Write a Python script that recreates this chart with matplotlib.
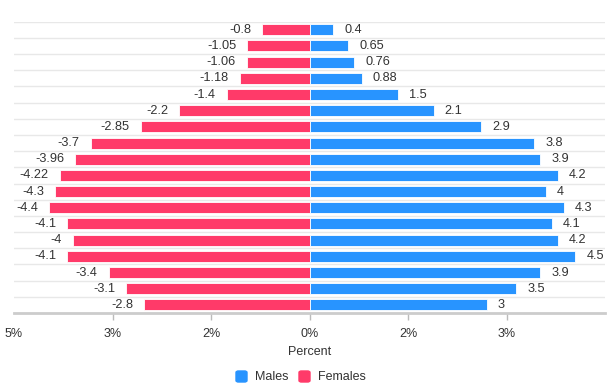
import matplotlib.pyplot as plt
from matplotlib.patches import FancyBboxPatch
import numpy as np

plt.rcParams['font.family'] = ['Liberation Sans', 'DejaVu Sans']

# rows, top to bottom
females = [-0.8, -1.05, -1.06, -1.18, -1.4, -2.2, -2.85, -3.7, -3.96,
           -4.22, -4.3, -4.4, -4.1, -4, -4.1, -3.4, -3.1, -2.8]
males = [0.4, 0.65, 0.76, 0.88, 1.5, 2.1, 2.9, 3.8, 3.9,
         4.2, 4, 4.3, 4.1, 4.2, 4.5, 3.9, 3.5, 3]
tick_vals = [-5, -10 / 3, -5 / 3, 0, 5 / 3, 10 / 3]

MALE_C = '#2894FF'
FEMALE_C = '#FF3A69'
TEXT_C = '#333333'

fig = plt.figure(figsize=(6.1, 3.85), dpi=100)
ax = fig.add_axes([14 / 610, 1 - 313 / 385, 591 / 610, (313 - 21.7) / 385])

n = len(males)
y = np.arange(n)

ax.barh(y, females, height=0.68, color=FEMALE_C, edgecolor='white', linewidth=0.6, zorder=3)
ax.barh(y, males, height=0.68, color=MALE_C, edgecolor='white', linewidth=0.6, zorder=3)

for yi, f, m in zip(y, females, males):
    ax.annotate(f'{f:g}', (f, yi), xytext=(-8, 0), textcoords='offset points',
                ha='right', va='center', fontsize=9.2, color=TEXT_C)
    ax.annotate(f'{m:g}', (m, yi), xytext=(8, 0), textcoords='offset points',
                ha='left', va='center', fontsize=9.2, color=TEXT_C)

# row separators
for k in range(n):
    ax.axhline(k - 0.5, color='#e8e8e8', linewidth=1, zorder=1)

ax.set_xlim(-5, 5)
ax.set_ylim(n - 0.5, -0.5)
ax.set_yticks([])

for s in ['top', 'right', 'left']:
    ax.spines[s].set_visible(False)
ax.spines['bottom'].set_color('#cccccc')
ax.spines['bottom'].set_linewidth(2)

ax.set_xticks(tick_vals)
ax.set_xticklabels([f'{abs(v):.0f}%' for v in tick_vals])
ax.tick_params(axis='x', length=5, width=1, color='#bbbbbb', labelsize=9,
               labelcolor=TEXT_C, pad=6)
ax.xaxis.get_major_ticks()[0].tick1line.set_visible(False)

fig.text(310 / 610, 1 - 352 / 385, 'Percent', ha='center', va='center',
         fontsize=9, color=TEXT_C)

# legend
for x0, c, lab in [(236, MALE_C, 'Males'), (299, FEMALE_C, 'Females')]:
    box = FancyBboxPatch((x0 / 610, 1 - 382 / 385), 11 / 610, 11 / 385,
                         boxstyle='round,pad=0,rounding_size=0.004',
                         transform=fig.transFigure, color=c)
    fig.patches.append(box)
    fig.text((x0 + 19) / 610, 1 - 376.5 / 385, lab, ha='left', va='center',
             fontsize=9, color=TEXT_C)

fig.savefig('out.png', dpi=100)
